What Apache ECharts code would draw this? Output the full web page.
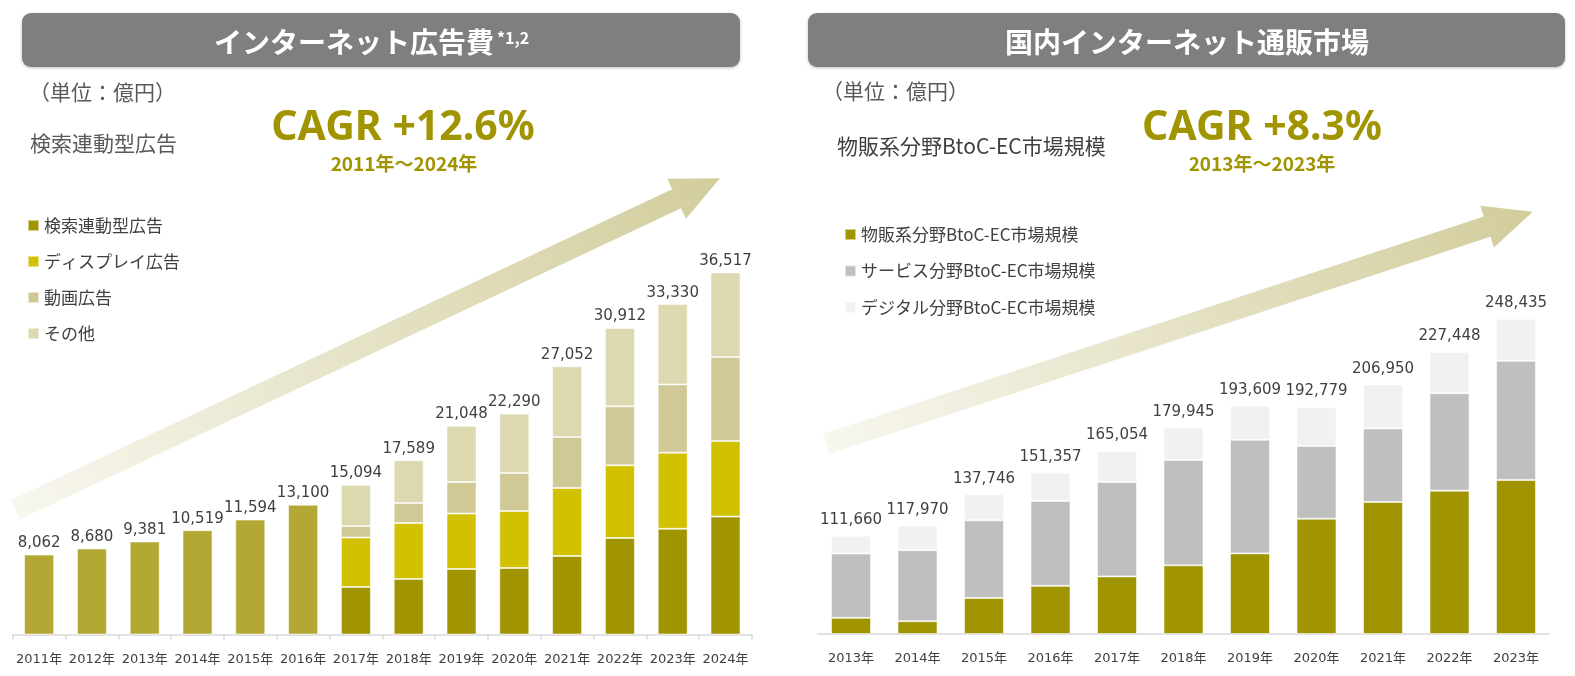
<!DOCTYPE html>
<html>
<head>
<meta charset="utf-8">
<script src="https://cdn.jsdelivr.net/npm/echarts@6/dist/echarts.min.js"></script>
<style>
html,body{margin:0;padding:0;background:#fff;}
#chart{width:1575px;height:676px;}
</style>
</head>
<body>
<div id="chart"></div>
<script>
// ---- Left chart: インターネット広告費 (億円)
const adYears = ['2011年','2012年','2013年','2014年','2015年','2016年','2017年','2018年','2019年','2020年','2021年','2022年','2023年','2024年'];
const adTotalEarly = [8062, 8680, 9381, 10519, 11594, 13100, null, null, null, null, null, null, null, null];
const adSearch  = [null, null, null, null, null, null, 4798, 5605, 6613, 6714, 7923, 9738, 10665, 11895];
const adDisplay = [null, null, null, null, null, null, 4980, 5645, 5585, 5746, 6855, 7329, 7681, 7621];
const adVideo   = [null, null, null, null, null, null, 1169, 2016, 3185, 3831, 5141, 5948, 6885, 8468];
const adOther   = [null, null, null, null, null, null, 4147, 4323, 5665, 5999, 7133, 7897, 8099, 8533];
const adNames = ['検索連動型広告','ディスプレイ広告','動画広告','その他'];

// ---- Right chart: 国内インターネット通販市場 (億円)
const ecYears = ['2013年','2014年','2015年','2016年','2017年','2018年','2019年','2020年','2021年','2022年','2023年'];
const ecGoods   = [59855, 57755, 72398, 80043, 86008, 92992, 100515, 122333, 132865, 139997, 146760];
const ecService = [40567, 44767, 49014, 53532, 59568, 66471, 71672, 45832, 46424, 61477, 75169];
const ecDigital = [11238, 15448, 16334, 17782, 19478, 20482, 21422, 24614, 27661, 25974, 26506];
const ecNames = ['物販系分野BtoC-EC市場規模','サービス分野BtoC-EC市場規模','デジタル分野BtoC-EC市場規模'];

const CJK = '"Noto Sans CJK JP", "Noto Sans", sans-serif';
const NUM = '"DejaVu Sans", "Noto Sans CJK JP", sans-serif';
const OLIVE = '#A09400';

function sumAt(arrs, i) {
  let s = 0;
  arrs.forEach(a => { if (a[i] != null) s += a[i]; });
  return s;
}
const fmt = v => v.toLocaleString('en-US');

function arrowPoints(tail, tip, sw, hw, hl) {
  const dx = tip[0] - tail[0], dy = tip[1] - tail[1];
  const L = Math.hypot(dx, dy);
  const ux = dx / L, uy = dy / L, nx = -uy, ny = ux;
  const bx = tip[0] - ux * hl, by = tip[1] - uy * hl;
  return [
    [tail[0] + nx * sw, tail[1] + ny * sw],
    [bx + nx * sw, by + ny * sw],
    [bx + nx * hw, by + ny * hw],
    tip,
    [bx - nx * hw, by - ny * hw],
    [bx - nx * sw, by - ny * sw],
    [tail[0] - nx * sw, tail[1] - ny * sw]
  ];
}
function arrow(tail, tip) {
  return {
    type: 'polygon', z: 0, silent: true,
    shape: { points: arrowPoints(tail, tip, 10.6, 22, 48) },
    style: {
      fill: new echarts.graphic.LinearGradient(tail[0], tail[1], tip[0], tip[1], [
        { offset: 0, color: '#f8f7ef' },
        { offset: 1, color: '#d2cd9c' }
      ], true)
    }
  };
}
function txt(text, x, y, font, fill, align) {
  return {
    type: 'text', z: 5, silent: true,
    style: { text: text, x: x, y: y, font: font, fill: fill,
      align: align || 'left', textAlign: align || 'left',
      verticalAlign: 'middle', textVerticalAlign: 'middle' }
  };
}

const chart = echarts.init(document.getElementById('chart'), null, { renderer: 'canvas' });

const barBorder = { borderColor: 'rgba(255,255,255,0.55)', borderWidth: 1 };

const adStackAll = [adTotalEarly, adSearch, adDisplay, adVideo, adOther];
const ecStackAll = [ecGoods, ecService, ecDigital];

const leftLabel = {
  show: true, position: 'top', distance: 4,
  fontSize: 15, color: '#404040', fontFamily: NUM,
  formatter: p => fmt(sumAt(adStackAll, p.dataIndex))
};
const rightLabel = {
  show: true, position: 'top', distance: 8,
  fontSize: 15, color: '#404040', fontFamily: NUM,
  formatter: p => fmt(sumAt(ecStackAll, p.dataIndex))
};

const option = {
  animation: false,
  backgroundColor: '#ffffff',
  grid: [
    { left: 12.7, width: 739.2, top: 238, bottom: 41.5 },
    { left: 817.75, width: 731.5, top: 237, bottom: 42.5 }
  ],
  xAxis: [
    {
      type: 'category', gridIndex: 0, data: adYears,
      axisLine: { lineStyle: { color: '#d9d9d9', width: 1.5 } },
      axisTick: { show: true, length: 5, lineStyle: { color: '#d9d9d9', width: 1.5 } },
      axisLabel: { interval: 0, fontSize: 13, color: '#404040', fontFamily: NUM, margin: 19 }
    },
    {
      type: 'category', gridIndex: 1, data: ecYears,
      axisLine: { lineStyle: { color: '#d9d9d9', width: 1.5 } },
      axisTick: { show: false },
      axisLabel: { interval: 0, fontSize: 13, color: '#404040', fontFamily: NUM, margin: 19 }
    }
  ],
  yAxis: [
    { type: 'value', gridIndex: 0, min: 0, max: 40000, show: false },
    { type: 'value', gridIndex: 1, min: 50000, max: 300000, show: false }
  ],
  legend: [
    {
      data: adNames, orient: 'vertical', left: 22, top: 212,
      icon: 'rect', itemWidth: 11, itemHeight: 11, itemGap: 19,
      selectedMode: false,
      textStyle: { fontSize: 17, lineHeight: 17, color: '#404040', fontFamily: CJK }
    },
    {
      data: ecNames, orient: 'vertical', left: 839, top: 221,
      icon: 'rect', itemWidth: 11, itemHeight: 11, itemGap: 19.5,
      selectedMode: false,
      textStyle: { fontSize: 17, lineHeight: 17, color: '#404040', fontFamily: CJK }
    }
  ],
  series: [
    { name: 'インターネット広告費', type: 'bar', xAxisIndex: 0, yAxisIndex: 0, stack: 'ad', barWidth: 30,
      data: adTotalEarly, itemStyle: Object.assign({ color: '#B3A834' }, barBorder), label: leftLabel, z: 3 },
    { name: adNames[0], type: 'bar', xAxisIndex: 0, yAxisIndex: 0, stack: 'ad', barWidth: 30,
      data: adSearch, itemStyle: Object.assign({ color: '#A09400' }, barBorder), z: 3 },
    { name: adNames[1], type: 'bar', xAxisIndex: 0, yAxisIndex: 0, stack: 'ad', barWidth: 30,
      data: adDisplay, itemStyle: Object.assign({ color: '#D1C100' }, barBorder), z: 3 },
    { name: adNames[2], type: 'bar', xAxisIndex: 0, yAxisIndex: 0, stack: 'ad', barWidth: 30,
      data: adVideo, itemStyle: Object.assign({ color: '#D0C996' }, barBorder), z: 3 },
    { name: adNames[3], type: 'bar', xAxisIndex: 0, yAxisIndex: 0, stack: 'ad', barWidth: 30,
      data: adOther, itemStyle: Object.assign({ color: '#DCD8AF' }, barBorder), label: leftLabel, z: 3 },

    { name: ecNames[0], type: 'bar', xAxisIndex: 1, yAxisIndex: 1, stack: 'ec', barWidth: 40, clip: true,
      data: ecGoods, itemStyle: Object.assign({ color: '#A09400' }, barBorder), z: 3 },
    { name: ecNames[1], type: 'bar', xAxisIndex: 1, yAxisIndex: 1, stack: 'ec', barWidth: 40, clip: true,
      data: ecService, itemStyle: Object.assign({ color: '#BFBFBF' }, barBorder), z: 3 },
    { name: ecNames[2], type: 'bar', xAxisIndex: 1, yAxisIndex: 1, stack: 'ec', barWidth: 40, clip: true,
      data: ecDigital, itemStyle: Object.assign({ color: '#F1F1F1' }, barBorder), label: rightLabel, z: 3 }
  ],
  graphic: {
    elements: [
      arrow([15.5, 509.7], [720, 178.3]),
      arrow([826, 444], [1532.7, 211.7]),
      { type: 'rect', z: 1, silent: true, shape: { x: 22, y: 13, width: 718, height: 54, r: 9 },
        style: { fill: '#7F7F7F', shadowBlur: 3, shadowOffsetY: 1, shadowColor: 'rgba(0,0,0,0.25)' } },
      { type: 'rect', z: 1, silent: true, shape: { x: 808, y: 13, width: 757, height: 54, r: 9 },
        style: { fill: '#7F7F7F', shadowBlur: 3, shadowOffsetY: 1, shadowColor: 'rgba(0,0,0,0.25)' } },
      txt('インターネット広告費', 494, 42, 'bold 28px ' + CJK, '#ffffff', 'right'),
      txt('*1,2', 497, 38, 'bold 16px ' + CJK, '#ffffff', 'left'),
      txt('国内インターネット通販市場', 1187, 42, 'bold 28px ' + CJK, '#ffffff', 'center'),

      txt('（単位：億円）', 29, 92, '21px ' + CJK, '#595959', 'left'),
      txt('検索連動型広告', 30, 143, '21px ' + CJK, '#595959', 'left'),
      txt('CAGR +12.6%', 403, 128, 'bold 41px "Noto Sans", sans-serif', OLIVE, 'center'),
      txt('2011年～2024年', 404, 164, 'bold 19px ' + CJK, OLIVE, 'center'),

      txt('（単位：億円）', 822, 91, '21px ' + CJK, '#595959', 'left'),
      txt('物販系分野BtoC-EC市場規模', 837, 146, '21px ' + CJK, '#404040', 'left'),
      txt('CAGR +8.3%', 1262, 128, 'bold 41px "Noto Sans", sans-serif', OLIVE, 'center'),
      txt('2013年～2023年', 1262, 164, 'bold 19px ' + CJK, OLIVE, 'center')
    ]
  }
};
chart.setOption(option);
</script>
</body>
</html>
